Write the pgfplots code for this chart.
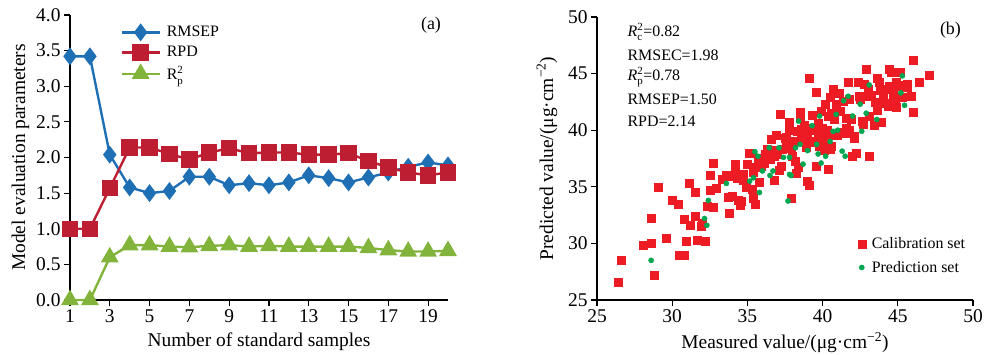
\documentclass[border=0pt]{standalone}
\usepackage{pgfplots}
\pgfplotsset{compat=1.18}
\usepackage{fontspec}
\setmainfont{Liberation Serif}
\definecolor{cBlue}{RGB}{31,111,181}
\definecolor{cRed}{RGB}{190,30,50}
\definecolor{cGreen}{RGB}{130,180,60}
\definecolor{sRed}{RGB}{237,28,36}
\definecolor{sGreen}{RGB}{0,166,80}
\newcommand{\Rsq}[1]{$\mbox{\textit{R}}^{\mbox{\fontsize{11}{11}\selectfont 2}}_{\mbox{\fontsize{11}{11}\selectfont #1}}$}
\begin{document}
\begin{tikzpicture}[x=1bp,y=1bp]
\useasboundingbox (-70,-54) rectangle (914,300);
\pgfplotsset{
  common/.style={
    scale only axis,
    axis x line*=bottom, axis y line*=left,
    axis line style={-, line width=1.2pt},
    tick align=outside,
    major tick length=6bp,
    every tick/.style={line width=1.2pt, black},
    tick label style={font=\fontsize{19.5}{22}\selectfont},
    label style={font=\fontsize{19.5}{22}\selectfont},
    /pgf/number format/assume math mode=true,
    clip=false,
  }
}
\begin{axis}[common,
  at={(0,0)}, anchor=south west,
  width=378bp, height=285bp,
  xmin=1, xmax=20, ymin=0, ymax=4,
  xtick={1,3,...,19},
  ytick={0,0.5,...,4},
  yticklabel style={/pgf/number format/.cd, fixed, fixed zerofill, precision=1},
  xlabel={Number of standard samples},
  ylabel={Model evaluation parameters},
  xlabel style={yshift=-3bp},
  ylabel style={yshift=0bp},
  legend style={draw=none, fill=none, at={(0.125,0.975)}, anchor=north west,
    font=\fontsize{16}{19}\selectfont, row sep=4bp,
    nodes={inner xsep=6bp}},
  legend cell align=left,
  legend image code/.code={
    \draw[#1, mark repeat=2, mark phase=2] plot coordinates {(0bp,0bp) (19bp,0bp) (38bp,0bp)};},
]
\addplot[color=cBlue, line width=2.4pt, mark=diamond*, mark size=7bp] coordinates {
(1,3.42)(2,3.42)(3,2.04)(4,1.58)(5,1.50)(6,1.53)(7,1.73)(8,1.73)(9,1.61)(10,1.64)
(11,1.61)(12,1.65)(13,1.75)(14,1.71)(15,1.65)(16,1.72)(17,1.79)(18,1.87)(19,1.93)(20,1.89)};
\addlegendentry{RMSEP}
\addplot[color=cRed, line width=2.4pt, mark=square*, mark size=7bp] coordinates {
(1,1.00)(2,1.00)(3,1.57)(4,2.14)(5,2.14)(6,2.05)(7,1.97)(8,2.07)(9,2.13)(10,2.06)
(11,2.07)(12,2.07)(13,2.04)(14,2.04)(15,2.06)(16,1.95)(17,1.86)(18,1.79)(19,1.75)(20,1.79)};
\addlegendentry{RPD}
\addplot[color=cGreen, line width=2.4pt, mark=triangle*, mark size=8bp] coordinates {
(1,0.00)(2,0.00)(3,0.60)(4,0.77)(5,0.77)(6,0.75)(7,0.74)(8,0.76)(9,0.77)(10,0.75)
(11,0.76)(12,0.75)(13,0.75)(14,0.75)(15,0.75)(16,0.73)(17,0.70)(18,0.68)(19,0.68)(20,0.69)};
\addlegendentry{R$^{\mbox{\fontsize{11}{11}\selectfont 2}}_{\mbox{\fontsize{11}{11}\selectfont p}}$}
\node[font=\fontsize{18}{21}\selectfont] at (rel axis cs:0.955,0.965) {(a)};
\end{axis}
\begin{axis}[common,
  at={(527bp,0bp)}, anchor=south west,
  width=376bp, height=283bp,
  xmin=25, xmax=50, ymin=25, ymax=50,
  xtick={25,30,...,50}, ytick={25,30,...,50},
  xlabel={Measured value/(μg·cm\textsuperscript{−2})},
  ylabel={Predicted value/(μg·cm\textsuperscript{−2})},
  xlabel style={yshift=-3bp},
  ylabel style={yshift=4bp},
  legend style={draw=none, fill=none, at={(0.685,0.235)}, anchor=north west,
    font=\fontsize{16}{19}\selectfont, row sep=7bp,
    nodes={inner xsep=6bp}},
  legend cell align=left,
]
\addplot[only marks, mark=square*, mark size=4bp, color=sRed] coordinates {
(26.42,26.6)(26.6,28.5)(28.1,29.8)(28.6,30.0)(28.6,32.2)(28.8,27.2)(29.06,35.0)(29.6,30.5)
(30.0,33.8)(30.4,33.5)(30.45,29.0)(30.8,29.0)(30.9,30.2)(30.8,32.1)(31.1,35.3)(31.2,31.6)
(31.5,34.5)(31.5,32.4)(31.65,30.3)(31.9,31.5)(32.0,31.8)(32.2,30.2)(32.3,33.3)(32.5,34.7)
(32.55,36.0)(32.7,33.2)(32.7,37.1)(32.9,34.9)(33.3,35.7)(33.6,36.0)(33.8,32.7)(33.7,34.1)
(34.0,34.2)(34.2,37.0)(34.2,36.4)(34.3,35.8)(34.4,33.8)(34.5,33.4)(34.6,33.7)(34.7,35.6)
(34.7,36.1)(35.15,38.0)(35.3,34.8)(35.4,34.0)(35.5,33.5)(35.4,36.25)(35.6,36.7)(35.8,35.4)
(35.9,36.8)(36.1,37.1)(36.3,37.7)(36.4,38.1)(36.6,39.2)(36.75,35.6)(36.8,37.7)(36.9,39.6)
(36.95,38.0)(37.1,36.5)(37.2,41.4)(37.25,36.8)(37.5,39.3)(37.6,38.9)(37.75,40.7)(37.9,34.0)
(38.0,37.7)(38.05,38.75)(38.2,37.3)(38.25,36.2)(38.4,36.7)(38.5,41.6)(38.5,41.1)(38.6,40.1)
(38.7,39.6)(38.8,39.3)(38.9,39.9)(39.0,35.5)(39.1,35.1)(39.1,44.6)(39.2,39.0)(39.4,40.2)
(39.6,36.8)(39.6,43.4)(39.7,39.6)(39.8,38.6)(39.9,41.7)(40.0,40.2)(40.1,38.2)(40.2,42.3)
(40.35,41.2)(40.4,36.55)(40.45,39.6)(40.5,42.9)(40.6,38.6)(40.7,43.6)(40.8,41.0)(40.9,42.3)
(41.0,39.6)(41.1,43.3)(41.2,41.7)(41.35,42.6)(41.5,39.7)(41.6,41.1)(41.7,44.2)(41.8,40.0)
(41.8,42.7)(42.0,37.7)(42.1,39.3)(42.25,38.0)(42.35,44.2)(42.5,42.7)(42.7,40.5)(42.75,44.05)
(42.9,45.4)(42.9,43.0)(43.1,37.7)(43.1,41.2)(43.2,43.1)(43.4,40.4)(43.6,44.6)(43.6,41.8)
(43.75,44.2)(43.9,40.7)(44.0,43.1)(44.1,42.4)(44.35,42.1)(44.4,45.4)(44.45,43.9)(44.55,45.1)
(44.7,43.1)(44.8,42.7)(44.9,42.0)(45.0,43.9)(45.15,45.15)(45.3,42.9)(45.45,43.9)(45.6,43.8)
(45.9,43.0)(46.0,46.15)(46.0,41.6)(46.45,44.2)(47.1,44.9)
(36.0,37.3)(36.2,37.9)(36.5,37.4)(36.7,38.2)(37.0,37.9)(37.3,38.3)(37.6,39.4)(37.9,38.4)
(38.1,39.0)(38.3,39.9)(38.6,39.2)(38.8,40.4)(39.0,39.7)(39.3,40.0)(39.5,38.9)(39.7,40.6)
(39.9,39.2)(40.1,39.0)(40.3,40.0)(40.5,38.3)(40.8,39.6)(41.3,39.8)(41.6,40.2)(42.1,39.5)
(42.6,40.8)(43.0,43.6)(43.5,42.5)(44.2,43.6)(44.6,42.3)(45.2,44.0)(45.6,44.1)(35.0,37.0)
(34.9,35.0)(33.9,35.9)(34.5,36.0)(35.7,37.5)(36.3,38.3)(37.8,40.0)(38.9,38.5)(39.3,41.3)
(40.6,41.5)(41.9,41.0)(42.4,43.0)(43.8,43.5)(44.9,44.2)};
\addlegendentry{Calibration set}
\addplot[only marks, mark=*, mark size=2.6bp, color=sGreen] coordinates {
(28.6,28.5)(32.15,32.2)(32.3,31.6)(32.4,33.8)(33.6,35.3)(35.15,35.5)(35.4,35.8)(35.5,38.1)
(35.7,37.7)(35.8,34.5)(36.0,36.4)(36.45,38.45)(36.5,36.0)(36.7,36.4)(37.1,38.45)(37.4,37.6)
(37.7,33.75)(37.8,36.1)(37.8,37.6)(37.9,36.0)(38.2,38.45)(38.4,40.8)(38.5,38.75)(38.7,37.0)
(39.0,38.2)(39.3,40.4)(39.6,38.75)(39.7,37.9)(39.8,41.25)(39.9,37.1)(40.2,37.7)(40.5,39.0)
(40.7,39.9)(40.9,41.4)(41.0,40.0)(41.5,37.7)(41.3,38.15)(41.7,43.0)(42.0,41.25)(42.5,42.3)
(42.6,39.9)(42.9,41.5)(43.1,44.0)(43.6,40.95)(45.3,44.8)(45.45,42.2)(45.2,43.3)(41.4,42.6)};
\addlegendentry{Prediction set}
\begin{scope}[font=\fontsize{16}{19}\selectfont]
\node[anchor=west] at (axis cs:26.8,48.7) {\Rsq{c}=0.82};
\node[anchor=west] at (axis cs:26.8,46.6) {RMSEC=1.98};
\node[anchor=west] at (axis cs:26.8,44.7) {\Rsq{p}=0.78};
\node[anchor=west] at (axis cs:26.8,42.75) {RMSEP=1.50};
\node[anchor=west] at (axis cs:26.8,40.8) {RPD=2.14};
\end{scope}
\node[font=\fontsize{18}{21}\selectfont] at (rel axis cs:0.94,0.955) {(b)};
\end{axis}
\end{tikzpicture}
\end{document}
